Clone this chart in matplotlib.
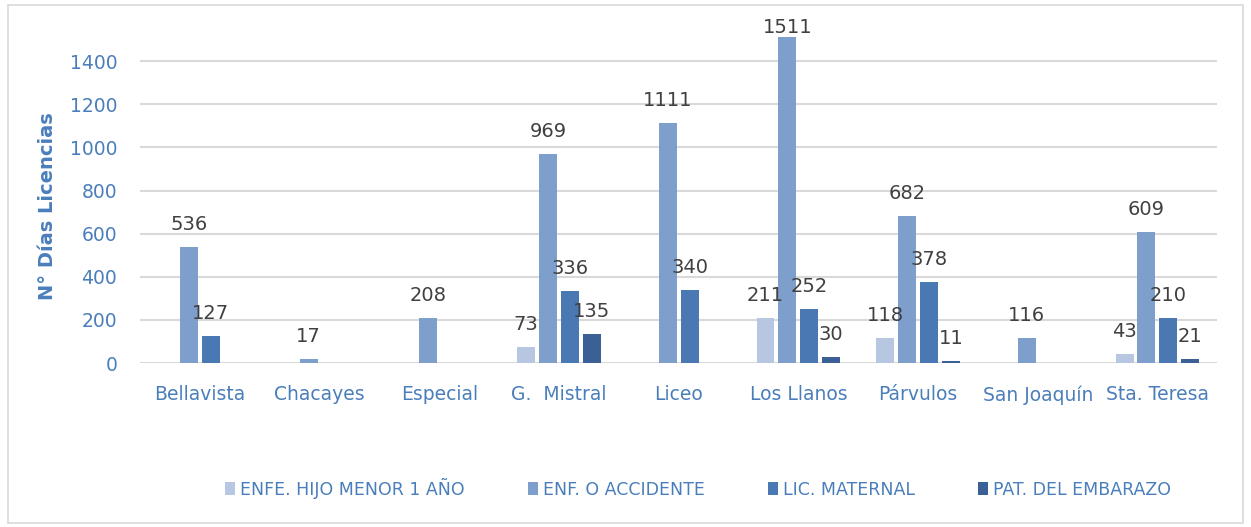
import numpy as np
import matplotlib.pyplot as plt
from matplotlib.patches import Rectangle

# data
schools = ['Bellavista', 'Chacayes', 'Especial', 'G.  Mistral', 'Liceo',
           'Los Llanos', 'Párvulos', 'San Joaquín', 'Sta. Teresa']
series = ['ENFE. HIJO MENOR 1 AÑO', 'ENF. O ACCIDENTE', 'LIC. MATERNAL', 'PAT. DEL EMBARAZO']
hijo = [0, 0, 0, 73, 0, 211, 118, 0, 43]
accidente = [536, 17, 208, 969, 1111, 1511, 682, 116, 609]
maternal = [127, 0, 0, 336, 340, 252, 378, 0, 210]
embarazo = [0, 0, 0, 135, 0, 30, 11, 0, 21]
yticks = [0, 200, 400, 600, 800, 1000, 1200, 1400]

colors = ['#B7C6E1', '#7E9ECC', '#4A78B2', '#3A6096']
blue_txt = '#4A7EBB'
values = [hijo, accidente, maternal, embarazo]

fig = plt.figure(figsize=(12.51, 5.27), dpi=100)
fig.patches.append(Rectangle((0.006, 0.008), 0.988, 0.982, transform=fig.transFigure,
                             fill=False, edgecolor='#D9D9D9', linewidth=1.2))
ax = fig.add_axes([0.112, 0.311, 0.861, 0.655])

x = np.arange(len(schools))
w = 0.15
step = 0.183
for i, (vals, col, name) in enumerate(zip(values, colors, series)):
    pos = x + (i - 1.5) * step
    ax.bar(pos, vals, width=w, color=col, label=name, zorder=3)
    for p, v in zip(pos, vals):
        if v > 0:
            # label sits a fixed gap above the bar, kept inside the chart at the top
            ax.text(p, min(v + 79, 1530), str(v), ha='center', va='baseline',
                    fontsize=14, color='#404040', zorder=4)

ax.set_xlim(-0.5, len(schools) - 0.5)
ax.set_ylim(0, 1600)
for t in yticks:
    ax.axhline(t, color='#D9D9D9', linewidth=1.5, zorder=1)
ax.set_yticks(yticks)
ax.set_xticks(x)
ax.set_xticklabels(schools)
ax.tick_params(axis='both', length=0, labelsize=13.5, labelcolor=blue_txt)
ax.tick_params(axis='x', pad=16)
ax.tick_params(axis='y', pad=16.5)
for s in ax.spines.values():
    s.set_visible(False)
ax.set_ylabel('N° Días Licencias', fontsize=14, fontweight='bold', color=blue_txt)
ax.yaxis.set_label_coords(-0.077, 0.455)

leg = fig.legend(loc='center', bbox_to_anchor=(0.558, 0.074), ncol=4, frameon=False,
                 fontsize=12.5, handlelength=0.55, handleheight=0.8, handletextpad=0.3,
                 columnspacing=3.65)
for t in leg.get_texts():
    t.set_color(blue_txt)

fig.savefig('out.png', dpi=100)
